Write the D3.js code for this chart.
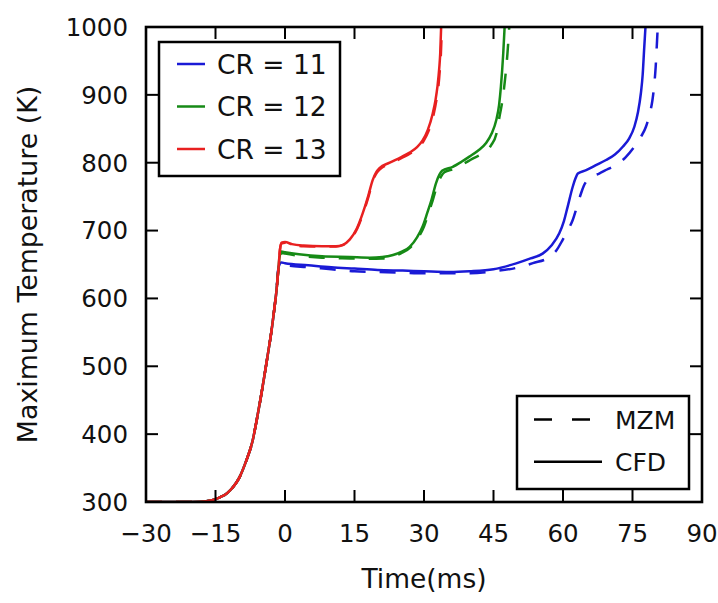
<!DOCTYPE html>
<html><head><meta charset="utf-8">
<script src="https://cdn.jsdelivr.net/npm/d3@7"></script>
<style>body{margin:0;background:#fff;} svg{display:block;}</style>
</head><body>
<svg id="c" width="718" height="603"></svg>
<script>
// ---- data ----
const xTicks = [-30,-15,0,15,30,45,60,75,90];
const yTicks = [300,400,500,600,700,800,900,1000];
const compression = [[-30,300],[-20,300],[-17,301],[-15.5,303],[-14,307],[-12.5,313],[-11.2,322],[-10,334],[-8.3,362],[-7,390],[-6.1,421],[-5.2,455],[-4.35,490],[-3.6,522],[-2.9,553],[-2.3,585],[-1.83,612],[-1.4,645]];
const cr13_cfd = [[-1.1,671],[-0.75,682],[0,683],[1.5,680],[4,678],[8,677],[11,677],[12.5,679],[14,687],[15.5,703],[16.8,726],[18,752],[18.9,774],[19.7,786],[20.4,792],[22.6,800],[25,808],[26.9,815],[28.5,823],[29.7,833],[30.8,848],[31.9,873],[32.5,893],[32.9,912],[33.3,940],[33.5,961],[33.7,1000]];
const cr13_mzm = [[-1.1,671],[-0.75,681],[0,682],[1.5,679],[4,677],[8,676.5],[11,676.5],[12.6,679],[14.1,687],[15.6,703],[16.9,726],[18.1,752],[19,774],[19.8,785],[20.6,791],[22.8,799],[25.2,807],[27.1,814],[28.7,822],[29.9,832],[31,847],[32.1,872],[32.7,893],[33.1,912],[33.45,940],[33.65,961],[33.85,1000]];
const cr12_cfd = [[-1.2,660],[-0.8,669],[0,668],[3,665],[8,662],[14,661],[18.3,660],[21,661],[23.3,664],[25.2,669],[26.9,676],[28.5,690],[29.7,706],[30.7,726],[31.6,745],[32.6,770],[33.3,782],[33.9,788],[36.2,794],[38,801],[39.8,809],[41.7,818],[43.4,829],[44.6,843],[45.6,863],[46.2,885],[46.6,912],[47.1,961],[47.4,1000]];
const cr12_mzm = [[-1.2,659],[-0.8,667],[0,666],[3,663],[8,660],[14,659],[18.3,658.5],[21,659],[23.3,662],[25.2,667],[27.2,676],[28.8,690],[30,706],[31,726],[31.9,745],[32.9,768],[33.7,780],[34.4,786],[36.6,791],[38.5,798],[40.5,806],[42.7,814],[44.5,826],[45.6,842],[46.3,868],[47,895],[47.6,930],[48,960],[48.4,1000]];
const cr11_cfd = [[-1.3,648],[-0.8,653],[0,652],[5,649],[10,646],[15,644],[20,642],[25.4,641],[30,640],[35.5,639],[39.8,640],[45,643],[49.9,651.7],[53,659],[55.6,666],[57.5,678],[59.2,696],[60.2,714],[61,735],[62.1,764.6],[62.7,777],[63.2,784],[65,789],[67,796],[69.3,804],[71.2,812],[72.9,823.6],[74.3,836],[75.4,853],[76.2,875],[76.8,902],[77.2,930],[77.5,966],[77.8,1000]];
const cr11_mzm = [[-1.3,646],[-0.8,650],[0,649],[5,646],[10,643],[15,640],[20,639],[25,638],[30,637],[35,637],[40,637],[45,640],[49.9,645],[53.5,652],[57.1,661],[58.6,671],[59.9,686],[61,700],[62.1,715.6],[63,735],[63.9,755],[64.5,766],[65,772],[66.3,780],[67.8,784],[69.5,790],[71.4,796.6],[73.5,808],[75.4,823.6],[76.8,838],[77.9,853],[78.7,872],[79.3,892],[79.7,915],[80,941],[80.3,980],[80.45,1000]];
const crLabels = ["CR = 11","CR = 12","CR = 13"];
const crColors = ["#1a1ad6","#168a16","#e82020"];
const styleLabels = ["MZM","CFD"];

// ---- layout ----
const L=146, R=702, T=27, B=502;
const svg = d3.select("#c");
const x = d3.scaleLinear().domain([-30,90]).range([L,R]);
const y = d3.scaleLinear().domain([300,1000]).range([B,T]);
const font = "DejaVu Sans";

svg.append("clipPath").attr("id","clip").append("rect")
  .attr("x",L).attr("y",T).attr("width",R-L).attr("height",B-T);

const line = d3.line().x(d=>x(d[0])).y(d=>y(d[1])).curve(d3.curveMonotoneX);
const series = [
  {d:cr11_mzm,c:0,dash:true},{d:cr11_cfd,c:0,dash:false},
  {d:cr12_mzm,c:1,dash:true},{d:cr12_cfd,c:1,dash:false},
  {d:cr13_mzm,c:2,dash:true},{d:cr13_cfd,c:2,dash:false}
];
const g = svg.append("g").attr("clip-path","url(#clip)");
series.forEach(s=>{
  g.append("path").datum(compression.concat(s.d))
    .attr("d",line).attr("fill","none")
    .attr("stroke",crColors[s.c]).attr("stroke-width",2.5)
    .attr("stroke-dasharray",s.dash?"16,14":null);
});

// ---- axes (ticks inward on all sides) ----
const tl = 12;
const ax = svg.append("g").attr("stroke","#000").attr("stroke-width",2);
xTicks.forEach(t=>{
  ax.append("line").attr("x1",x(t)).attr("x2",x(t)).attr("y1",B).attr("y2",B-tl);
  ax.append("line").attr("x1",x(t)).attr("x2",x(t)).attr("y1",T).attr("y2",T+tl);
});
yTicks.forEach(t=>{
  ax.append("line").attr("y1",y(t)).attr("y2",y(t)).attr("x1",L).attr("x2",L+tl);
  ax.append("line").attr("y1",y(t)).attr("y2",y(t)).attr("x1",R).attr("x2",R-tl);
});
svg.append("rect").attr("x",L).attr("y",T).attr("width",R-L).attr("height",B-T)
  .attr("fill","none").attr("stroke","#000").attr("stroke-width",2.6);

const fmt = v => (v<0?"\u2212"+Math.abs(v):String(v));
svg.append("g").selectAll("text").data(xTicks).join("text")
  .attr("x",d=>x(d)).attr("y",542).attr("text-anchor","middle")
  .attr("font-family",font).attr("font-size",24.5).attr("fill","#111").text(fmt);
svg.append("g").selectAll("text").data(yTicks).join("text")
  .attr("x",128).attr("y",d=>y(d)+8.8).attr("text-anchor","end")
  .attr("font-family",font).attr("font-size",24.5).attr("fill","#111").text(d=>d);

svg.append("text").attr("x",(L+R)/2).attr("y",588).attr("text-anchor","middle")
  .attr("font-family",font).attr("font-size",26.5).attr("fill","#111").text("Time(ms)");
svg.append("text").attr("transform",`translate(37,${(T+B)/2}) rotate(-90)`)
  .attr("text-anchor","middle").attr("font-family",font).attr("font-size",26.8)
  .attr("fill","#111").text("Maximum Temperature (K)");

// ---- legend 1 ----
const lg1 = svg.append("g");
lg1.append("rect").attr("x",159).attr("y",42).attr("width",181).attr("height",134)
  .attr("fill","#fff").attr("stroke","#000").attr("stroke-width",2.5);
crLabels.forEach((lab,i)=>{
  const yy = 64 + i*42.5;
  lg1.append("line").attr("x1",177).attr("x2",205).attr("y1",yy).attr("y2",yy)
    .attr("stroke",crColors[i]).attr("stroke-width",2.5);
  lg1.append("text").attr("x",217).attr("y",yy+9.8).attr("font-family",font)
    .attr("font-size",26.5).attr("fill","#111").text(lab);
});

// ---- legend 2 ----
const lg2 = svg.append("g");
lg2.append("rect").attr("x",517).attr("y",396).attr("width",172).attr("height",93)
  .attr("fill","#fff").attr("stroke","#000").attr("stroke-width",2.5);
styleLabels.forEach((lab,i)=>{
  const yy = 419.5 + i*42.3;
  lg2.append("line").attr("x1",534).attr("x2",602).attr("y1",yy).attr("y2",yy)
    .attr("stroke","#000").attr("stroke-width",2.5)
    .attr("stroke-dasharray",i===0?"18,20":null);
  lg2.append("text").attr("x",615).attr("y",yy+9.5).attr("font-family",font)
    .attr("font-size",25).attr("fill","#111").text(lab);
});
</script>
</body></html>
